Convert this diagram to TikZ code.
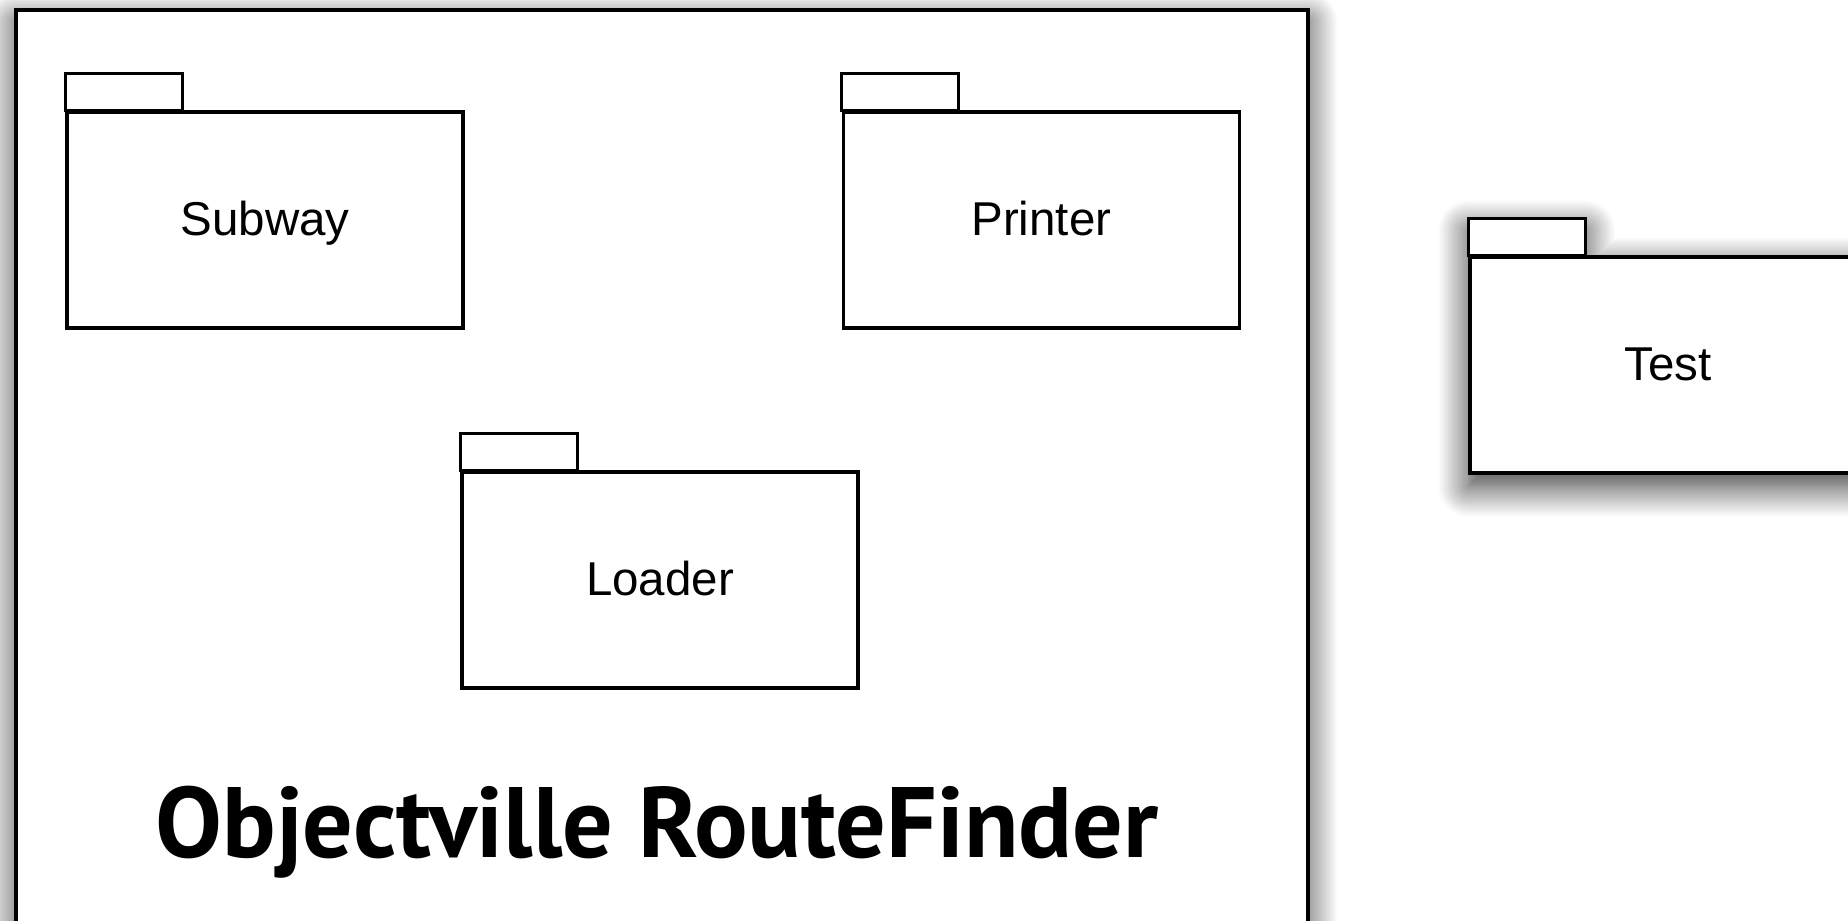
\documentclass[tikz,border=0pt]{standalone}
\usepackage{fontspec}
\newfontfamily\pkgfont{Liberation Sans}
\newfontfamily\titlefont{PT Sans}
\usetikzlibrary{positioning,backgrounds,shadows.blur}

\begin{document}
\begin{tikzpicture}[x=1pt,y=-1pt,
    pkg/.style={draw,fill=white,line width=3.4pt,minimum width=396pt,minimum height=216pt,inner sep=0pt,
      text height=40pt,text depth=9pt,font=\pkgfont\fontsize{47.5}{57}\selectfont},
    tab/.style={draw,fill=white,line width=3.4pt},
    frame/.style={draw,fill=white,line width=3.6pt,minimum width=1292pt,minimum height=960pt,inner sep=0pt},
    soft/.style={blur shadow={shadow xshift=0pt,shadow yshift=-12pt,shadow blur radius=30pt,shadow blur steps=20,shadow opacity=80}}
  ]
    \clip (0,0) rectangle (1848,921);
    \node[frame,soft,anchor=north west] (finder) at (14,8) {};

    \node[pkg] (subway) at (265,220) {Subway};
    \node[pkg,right=377pt of subway] (printer) {Printer};
    \node[pkg] (loader) at (660,580) {Loader};
    \node[pkg] (test) at (1668,365) {Test};

    \foreach \p in {subway,printer,loader,test}
      \draw[tab] (\p.north west) rectangle ++(117,-37);

    \begin{scope}[on background layer]
      \path[soft,fill=white] (test.north west) -- ++(0,-37) -- ++(117,0) |- (test.north east)
        -- (test.south east) -- (test.south west) -- cycle;
    \end{scope}

    \node[font=\titlefont\bfseries\fontsize{100}{120}\selectfont,anchor=base] (title) at (657,857) {Objectville RouteFinder};
\end{tikzpicture}
\end{document}
